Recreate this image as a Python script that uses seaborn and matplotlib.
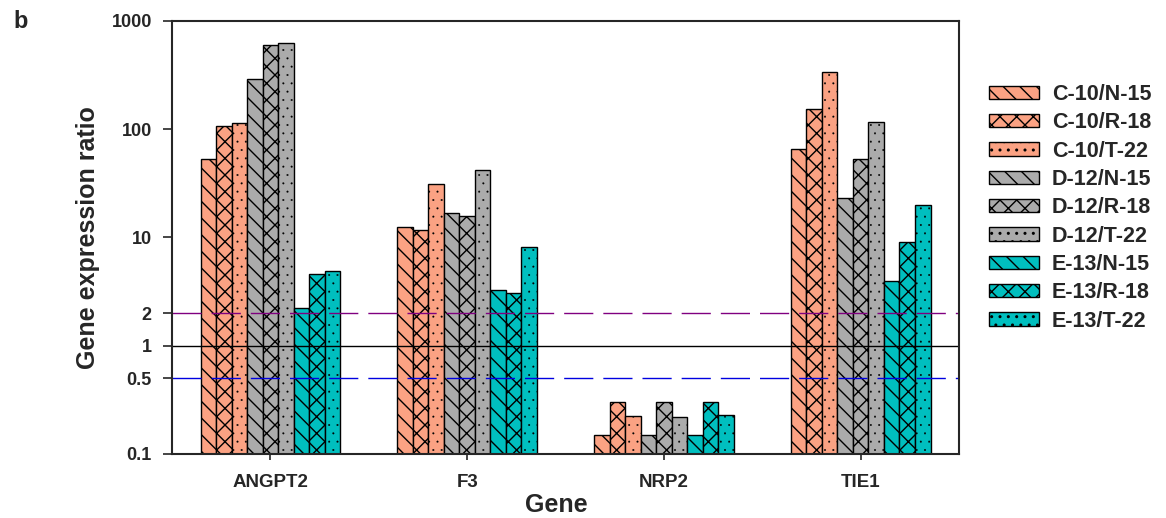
import seaborn as sns
import matplotlib.pyplot as plt
import pandas as pd

genes = ['ANGPT2', 'F3', 'NRP2', 'TIE1']
groups = ['C-10/N-15', 'C-10/R-18', 'C-10/T-22',
          'D-12/N-15', 'D-12/R-18', 'D-12/T-22',
          'E-13/N-15', 'E-13/R-18', 'E-13/T-22']

# expression ratio per group, in gene order
angpt2 = [52.6, 107, 114, 288, 594, 628, 2.24, 4.56, 4.86]
f3 = [12.6, 11.7, 31.3, 16.9, 15.8, 41.9, 3.29, 3.05, 8.2]
nrp2 = [0.15, 0.30, 0.226, 0.15, 0.30, 0.22, 0.15, 0.30, 0.23]
tie1 = [65.5, 153, 337, 23, 52.6, 116, 3.96, 9.1, 19.9]

yticks = [0.1, 0.5, 1, 2, 10, 100, 1000]
ytick_labels = ['0.1', '0.5', '1', '2', '10', '100', '1000']

colors = ['#FBA283'] * 3 + ['#ABABAB'] * 3 + ['#00BFBF'] * 3
hatches = ['\\\\', 'xx', '..'] * 3

rows = []
for gene, vals in zip(genes, [angpt2, f3, nrp2, tie1]):
    for grp, v in zip(groups, vals):
        rows.append({'Gene': gene, 'Group': grp, 'Ratio': v})
df = pd.DataFrame(rows)

sns.set_style('ticks')
plt.rcParams['font.family'] = ['Liberation Sans', 'DejaVu Sans']
plt.rcParams['font.weight'] = 'bold'
plt.rcParams['hatch.linewidth'] = 1.0

fig = plt.figure(figsize=(11.66, 5.18), dpi=100)
ax = fig.add_axes([0.1475, 0.1236, 0.675, 0.836])

sns.barplot(data=df, x='Gene', y='Ratio', hue='Group', order=genes, hue_order=groups,
            palette=colors, width=0.71, edgecolor='black', linewidth=1.0,
            saturation=1, errorbar=None, ax=ax)
ax.set_yscale('log')

for cont, h in zip(ax.containers, hatches):
    for p in cont.patches:
        p.set_hatch(h)
        if h == '..' and hasattr(p, 'set_hatch_linewidth'):
            p.set_hatch_linewidth(0.2)

# reference lines at 2, 1 and 0.5
ax.axhline(2, color='#800080', lw=1.0, dashes=(21, 7.2))
ax.axhline(1, color='black', lw=1.0)
ax.axhline(0.5, color='#0000E0', lw=1.0, dashes=(21, 7.2))

ax.set_ylim(0.1, 1000)
ax.set_xlim(-0.5, 3.5)
ax.set_yticks(yticks)
ax.set_yticklabels(ytick_labels)
ax.minorticks_off()
ax.tick_params(axis='y', length=6.5, width=1.2, labelsize=13, pad=8)
ax.tick_params(axis='x', length=4.5, width=1.2, labelsize=13.5, pad=10)
for s in ax.spines.values():
    s.set_linewidth(1.5)

ax.set_xlabel('Gene', fontsize=18, fontweight='bold')
ax.set_ylabel('Gene expression ratio', fontsize=18, fontweight='bold')
ax.xaxis.set_label_coords(0.488, -0.09)
ax.yaxis.set_label_coords(-0.091, 0.5)

if ax.get_legend() is not None:
    ax.get_legend().remove()
handles = [c.patches[0] for c in ax.containers]
fig.legend(handles, groups, loc='upper left', bbox_to_anchor=(989 / 1166, 1 - 84 / 518),
           frameon=False, handlelength=2.33, handleheight=0.56,
           labelspacing=0.34, handletextpad=0.6, borderpad=0, borderaxespad=0,
           prop={'weight': 'bold', 'size': 15.5})

fig.text(13 / 1166, 1 - 28 / 518, 'b', fontsize=17, fontweight='bold')

fig.savefig('out.png', dpi=100)
